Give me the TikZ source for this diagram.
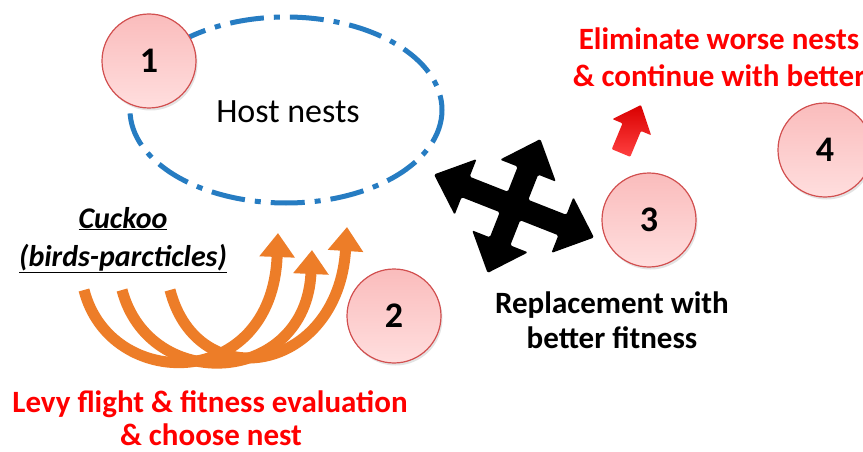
\documentclass[tikz,border=0pt]{standalone}
\usepackage{fontspec}
\setmainfont{Carlito}
\usetikzlibrary{arrows.meta,shadows}
\definecolor{nestblue}{RGB}{38,124,194}
\definecolor{cuckorange}{RGB}{237,125,40}
\definecolor{circfillT}{RGB}{250,188,188}
\definecolor{circfillB}{RGB}{255,222,222}
\definecolor{circline}{RGB}{210,80,80}
\definecolor{redtext}{RGB}{255,0,0}
\tikzset{
  stepcirc/.style={circle, minimum size=94pt, inner sep=0pt, draw=circline, line width=1.2pt,
    top color=circfillT, bottom color=circfillB,
    drop shadow={shadow xshift=1.5pt, shadow yshift=-2.5pt, opacity=0.22},
    font=\bfseries\fontsize{36}{42}\selectfont},
  redlabel/.style={text=redtext, font=\bfseries\fontsize{31}{37}\selectfont, anchor=base, inner sep=0pt},
  blacklabel/.style={text=black, font=\bfseries\fontsize{31}{37}\selectfont, anchor=base, inner sep=0pt},
  cucklabel/.style={font=\bfseries\itshape\fontsize{30}{36}\selectfont, anchor=base, inner sep=0pt},
  cuckarrow/.style={draw=cuckorange, line width=11pt, -{Triangle[width=34pt,length=24pt]}},
}
\begin{document}
\begin{tikzpicture}[x=1pt,y=-1pt]
\useasboundingbox[fill=white] (0,0) rectangle (863,452);

% host nests ellipse
\draw[nestblue, line width=5pt, dash pattern=on 34pt off 10pt on 6pt off 10pt]
  (286,110) ellipse [x radius=156, y radius=93];
\node[font=\fontsize{34}{40}\selectfont, anchor=base, inner sep=0pt] (host) at (288,122) {Host nests};

% circles
\node[stepcirc] (c1) at (149,61) {1};
\node[stepcirc] (c2) at (394,316) {2};
\node[stepcirc] (c3) at (649,220) {3};
\node[stepcirc] (c4) at (825,150) {4};

% cuckoo label
\node[cucklabel] (cuck1) at (123,228) {\underline{Cuckoo}};
\node[cucklabel] (cuck2) at (123,266) {\underline{(birds-parcticles)}};

% orange arrows
\coordinate (t1) at (84,290);
\coordinate (t2) at (122,290);
\coordinate (t3) at (170,290);
\coordinate (h1) at (278,233);
\coordinate (h2) at (312,250);
\coordinate (h3) at (347,227);
\draw[cuckarrow] (t1) .. controls (110,392) and (272,392) .. (h1);
\draw[cuckarrow] (t2) .. controls (150,395) and (306,385) .. (h2);
\draw[cuckarrow] (t3) .. controls (198,398) and (338,372) .. (h3);

% black four-way arrow
\begin{scope}[shift={(514,206)}, rotate=-21.5]
\fill[black, rounded corners=1.5pt]
  (11,11) -- (52,11) -- (52,30) -- (86,0) -- (52,-30) -- (52,-11) -- (11,-11)
  -- (11,-38) -- (30,-38) -- (0,-72) -- (-30,-38) -- (-11,-38) -- (-11,-11)
  -- (-52,-11) -- (-52,-30) -- (-86,0) -- (-52,30) -- (-52,11) -- (-11,11)
  -- (-11,38) -- (-30,38) -- (0,72) -- (30,38) -- (11,38) -- cycle;
\end{scope}
\coordinate (xarrow) at (514,206);

% red small arrow
\begin{scope}[shift={(621,153)}, rotate=67.4]
\shade[top color=red!85!black, bottom color=red!75!white, rounded corners=1pt]
  (0,-10) -- (28,-10) -- (28,-21) -- (52,0) -- (28,21) -- (28,10) -- (0,10) -- cycle;
\end{scope}

% texts
\node[redlabel] (elim1) at (719,50) {Eliminate worse nests};
\node[redlabel] (elim2) at (719,87) {\& continue with better};
\node[blacklabel] (rep1) at (612,313) {Replacement with};
\node[blacklabel] (rep2) at (612,348) {better fitness};
\node[redlabel] (levy1) at (210,412) {Levy flight \& fitness evaluation};
\node[redlabel] (levy2) at (211,445) {\& choose nest};
\end{tikzpicture}
\end{document}
